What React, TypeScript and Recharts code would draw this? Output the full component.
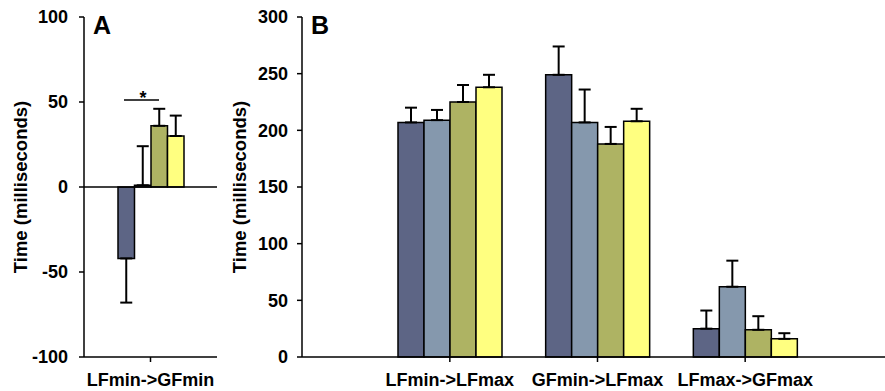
import React from "react";
import { BarChart, Bar, XAxis, YAxis, ErrorBar, ReferenceLine } from "recharts";

// panel A: a single transition, panel B: three transitions
const categoriesA = ["LFmin->GFmin"];
const categoriesB = ["LFmin->LFmax", "GFmin->LFmax", "LFmax->GFmax"];

const seriesKeys = ["c1", "c2", "c3", "c4"];
const colors = ["#5D6585", "#8598AD", "#AEB363", "#FFFF80"];

// mean per condition (A)
const meansA = [-42, 1, 36, 30];
const errsA = [26, 23, 10, 12];

// means per condition across categoriesB
const c1B = [207, 249, 25];
const c2B = [209, 207, 62];
const c3B = [225, 188, 24];
const c4B = [238, 208, 16];
const e1B = [13, 25, 16];
const e2B = [9, 29, 23];
const e3B = [15, 15, 12];
const e4B = [11, 11, 5];

const ticksA = [-100, -50, 0, 50, 100];
const ticksB = [0, 50, 100, 150, 200, 250, 300];

// one-sided error bars: up for positive means, down for negative
const oneSided = (v: number, e: number) => (v < 0 ? [e, 0] : [0, e]);

const dataA = categoriesA.map((name) => {
  const row: any = { name };
  seriesKeys.forEach((k, i) => {
    row[k] = meansA[i];
    row[k + "_err"] = oneSided(meansA[i], errsA[i]);
  });
  return row;
});

const meansB = [c1B, c2B, c3B, c4B];
const errsB = [e1B, e2B, e3B, e4B];
const dataB = categoriesB.map((name, j) => {
  const row: any = { name };
  seriesKeys.forEach((k, i) => {
    row[k] = meansB[i][j];
    row[k + "_err"] = oneSided(meansB[i][j], errsB[i][j]);
  });
  return row;
});

const FONT = "'Liberation Sans', Arial, sans-serif";
const tickStyle = { fill: "#000", fontSize: 18, fontWeight: 700, fontFamily: FONT };
const axisLine = { stroke: "#000", strokeWidth: 1.5 };

function bars() {
  return seriesKeys.map((k, i) => (
    <Bar key={k} dataKey={k} fill={colors[i]} stroke="#000" strokeWidth={1.5} isAnimationActive={false}>
      <ErrorBar dataKey={k + "_err"} width={6} stroke="#000" strokeWidth={2} direction="y" />
    </Bar>
  ));
}

export default function App() {
  return (
    <div style={{ position: "absolute", left: 0, top: 0, width: 885, height: 391, background: "#fff" }}>
      <div style={{ position: "absolute", left: 0, top: 0 }}>
        <BarChart width={230} height={391} data={dataA} margin={{ top: 17, right: 13, bottom: 0, left: 0 }} barGap={0} barSize={16.5}>
          <XAxis dataKey="name" height={34} interval={0} axisLine={axisLine} tickLine={axisLine} tickSize={5} tickMargin={11} tick={tickStyle} />
          <YAxis width={84} domain={[-100, 100]} ticks={ticksA} interval={0} axisLine={axisLine} tickLine={axisLine} tickSize={5} tickMargin={11} tick={tickStyle} />
          <ReferenceLine y={0} stroke="#000" strokeWidth={1.5} />
          {bars()}
        </BarChart>
      </div>
      <div style={{ position: "absolute", left: 230, top: 0 }}>
        <BarChart width={655} height={391} data={dataB} margin={{ top: 17, right: 0, bottom: 0, left: 0 }} barGap={0} barSize={26}>
          <XAxis dataKey="name" height={34} interval={0} padding={{ left: 74, right: 66 }} axisLine={axisLine} tickLine={axisLine} tickSize={5} tickMargin={11} tick={tickStyle} />
          <YAxis width={72} domain={[0, 300]} ticks={ticksB} interval={0} axisLine={axisLine} tickLine={axisLine} tickSize={5} tickMargin={9} tick={tickStyle} />
          {bars()}
        </BarChart>
      </div>
      <svg width={885} height={391} style={{ position: "absolute", left: 0, top: 0, pointerEvents: "none" }}>
        <g fontFamily={FONT} fontWeight={700} fill="#000">
          <text x={93} y={34} fontSize={25}>A</text>
          <text x={311} y={34} fontSize={25}>B</text>
          <text transform="translate(27,187) rotate(-90)" textAnchor="middle" fontSize={18.5}>Time (milliseconds)</text>
          <text transform="translate(246,187) rotate(-90)" textAnchor="middle" fontSize={18.5}>Time (milliseconds)</text>
          <text x={143} y={104} textAnchor="middle" fontSize={18}>*</text>
        </g>
        <line x1={124} x2={159} y1={100} y2={100} stroke="#000" strokeWidth={1.5} />
      </svg>
    </div>
  );
}
